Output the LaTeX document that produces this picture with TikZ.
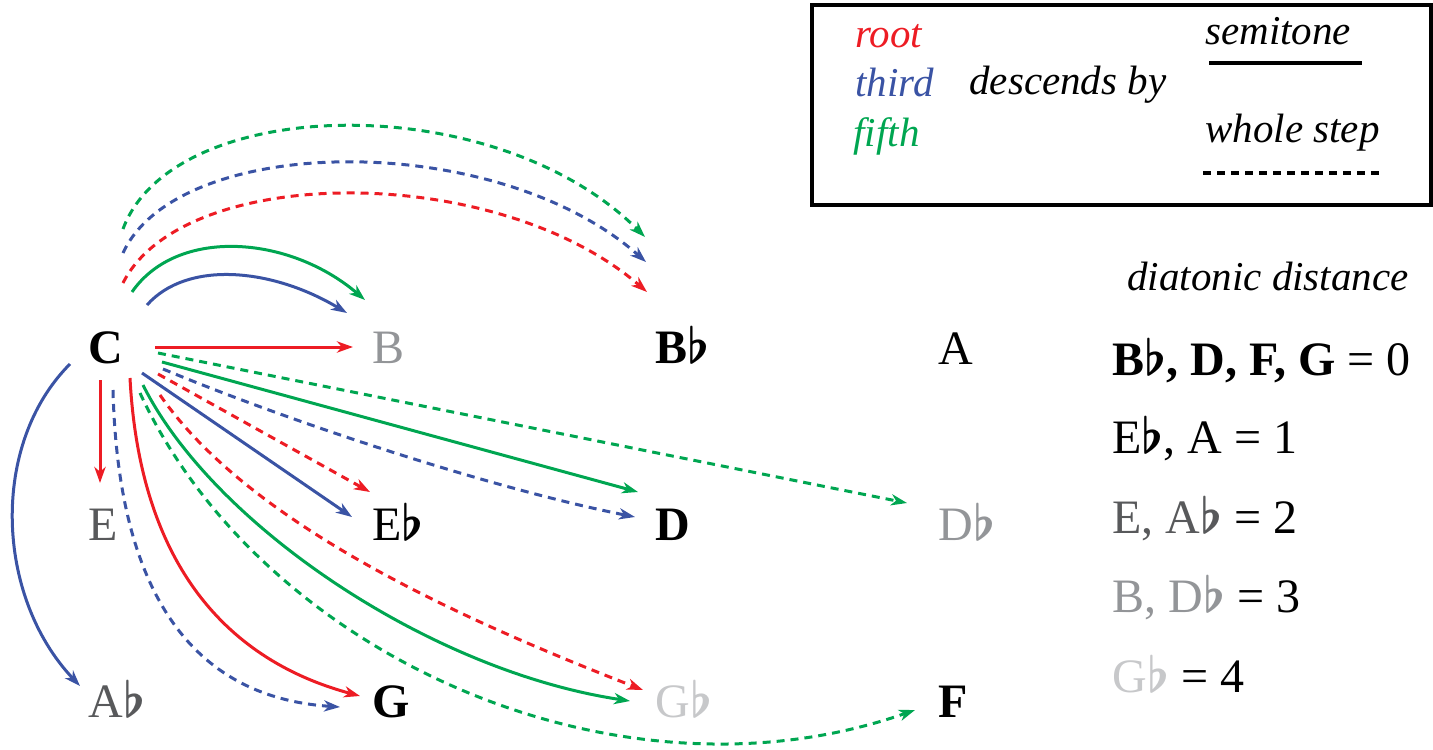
\documentclass[tikz,border=0pt]{standalone}
\usepackage{fontspec}
\setmainfont{Liberation Serif}
\usetikzlibrary{arrows.meta}
\definecolor{rootred}{HTML}{ED1C24}
\definecolor{thirdblue}{HTML}{3A53A4}
\definecolor{fifthgreen}{HTML}{00A651}
\definecolor{dist2}{HTML}{58595B}
\definecolor{dist3}{HTML}{939598}
\definecolor{dist4}{HTML}{C7C8CA}
\newcommand{\fl}{{\boldmath$\flat$}}

\begin{document}
\begin{tikzpicture}[x=0.5pt,y=-0.5pt,
  note/.style={anchor=base west,inner sep=0pt,font=\fontsize{24}{28}\selectfont},
  boldnote/.style={note,font=\fontsize{24}{28}\selectfont\bfseries},
  legtext/.style={anchor=base west,inner sep=0pt,font=\fontsize{20.5}{24}\selectfont\itshape},
  semitone/.style={line width=1.5pt,-{Stealth[length=8pt,width=5.6pt,inset=2.4pt]}},
  wholestep/.style={semitone,dash pattern=on 4pt off 3pt}]
  \useasboundingbox (0,0) rectangle (1433,749);

  % note names
  \node[boldnote] (C) at (88,363) {C};
  \node[note,dist3] (B) at (372,363) {B};
  \node[boldnote] (Bb) at (655,363) {B\fl};
  \node[note] (A) at (938,364) {A};
  \node[note,dist2] (E) at (88,540) {E};
  \node[note] (Eb) at (372,540) {E\fl};
  \node[boldnote] (D) at (655,540) {D};
  \node[note,dist3] (Db) at (938,540) {D\fl};
  \node[note,dist2] (Ab) at (88,717) {A\fl};
  \node[boldnote] (G) at (372,717) {G};
  \node[note,dist4] (Gb) at (655,717) {G\fl};
  \node[boldnote] (F) at (938,717) {F};

  % root moves
  \draw[semitone,rootred] ([shift={(67,-16)}]C.base west) -- ([shift={(-19,-16)}]B.base west);
  \draw[semitone,rootred] ([shift={(12,17)}]C.base west) -- ([shift={(12,-57)}]E.base west);
  \draw[semitone,rootred] ([shift={(42,15)}]C.base west) .. controls +(10,190) and +(-130,-35) .. ([shift={(-12,-21)}]G.base west);
  \draw[wholestep,rootred] ([shift={(35,-80)}]C.base west) .. controls +(60,-120) and +(-150,-130) .. ([shift={(-8,-71)}]Bb.base west);
  \draw[wholestep,rootred] ([shift={(70,11)}]C.base west) -- ([shift={(-2,-48)}]Eb.base west);
  \draw[wholestep,rootred] ([shift={(72,32)}]C.base west) .. controls +(90,130) and +(-180,-70) .. ([shift={(-12,-27)}]Gb.base west);

  % third moves
  \draw[semitone,thirdblue] ([shift={(59,-58)}]C.base west) .. controls +(40,-45) and +(-75,-45) .. ([shift={(-25,-50)}]B.base west);
  \draw[semitone,thirdblue] ([shift={(-18,1)}]C.base west) .. controls +(-80,80) and +(-85,-90) .. ([shift={(-8,-31)}]Ab.base west);
  \draw[semitone,thirdblue] ([shift={(54,10)}]C.base west) -- ([shift={(-20,-23)}]Eb.base west);
  \draw[wholestep,thirdblue] ([shift={(35,-110)}]C.base west) .. controls +(55,-120) and +(-150,-133) .. ([shift={(-9,-101)}]Bb.base west);
  \draw[wholestep,thirdblue] ([shift={(25,27)}]C.base west) .. controls +(5,200) and +(-150,-10) .. ([shift={(-32,-10)}]G.base west);
  \draw[wholestep,thirdblue] ([shift={(75,6)}]C.base west) .. controls +(120,50) and +(-150,-30) .. ([shift={(-20,-23)}]D.base west);

  % fifth moves
  \draw[semitone,fifthgreen] ([shift={(44,-71)}]C.base west) .. controls +(45,-65) and +(-76,-65) .. ([shift={(-7,-63)}]B.base west);
  \draw[semitone,fifthgreen] ([shift={(74,-1)}]C.base west) -- ([shift={(-17,-48)}]D.base west);
  \draw[semitone,fifthgreen] ([shift={(55,22)}]C.base west) .. controls +(70,140) and +(-200,-30) .. ([shift={(-25,-16)}]Gb.base west);
  \draw[wholestep,fifthgreen] ([shift={(35,-134)}]C.base west) .. controls +(50,-135) and +(-150,-150) .. ([shift={(-10,-126)}]Bb.base west);
  \draw[wholestep,fifthgreen] ([shift={(70,-10)}]C.base west) -- ([shift={(-31,-37)}]Db.base west);
  \draw[wholestep,fifthgreen] ([shift={(52,30)}]C.base west) .. controls +(120,260) and +(-300,105) .. ([shift={(-23,-7)}]F.base west);

  % legend
  \draw[line width=2pt] (812,5) rectangle (1431,205);
  \node[legtext,rootred] (lroot) at (855,48) {root};
  \node[legtext,thirdblue] (lthird) at (855,97) {third};
  \node[legtext,fifthgreen] (lfifth) at (853,147) {fifth};
  \node[legtext] (ldesc) at (969,95) {descends by};
  \node[legtext] (lsemi) at (1205,45) {semitone};
  \node[legtext] (lwhole) at (1205,142) {whole step};
  \draw[line width=2pt] ([shift={(4,18)}]lsemi.base west) -- ++(153,0);
  \draw[line width=2pt,dash pattern=on 4pt off 3pt] ([shift={(-2,31)}]lwhole.base west) -- ++(177,0);

  % diatonic distance
  \node[legtext] (ddist) at (1127,290) {diatonic distance};
  \node[note] (d0) at (1112,375) {\textbf{B\fl, D, F, G} = 0};
  \node[note] (d1) at (1112,453) {E\fl, A = 1};
  \node[note] (d2) at (1112,533) {{\color{dist2}E, A\fl} = 2};
  \node[note] (d3) at (1112,612) {{\color{dist3}B, D\fl} = 3};
  \node[note] (d4) at (1112,692) {{\color{dist4}G\fl} = 4};
\end{tikzpicture}
\end{document}
